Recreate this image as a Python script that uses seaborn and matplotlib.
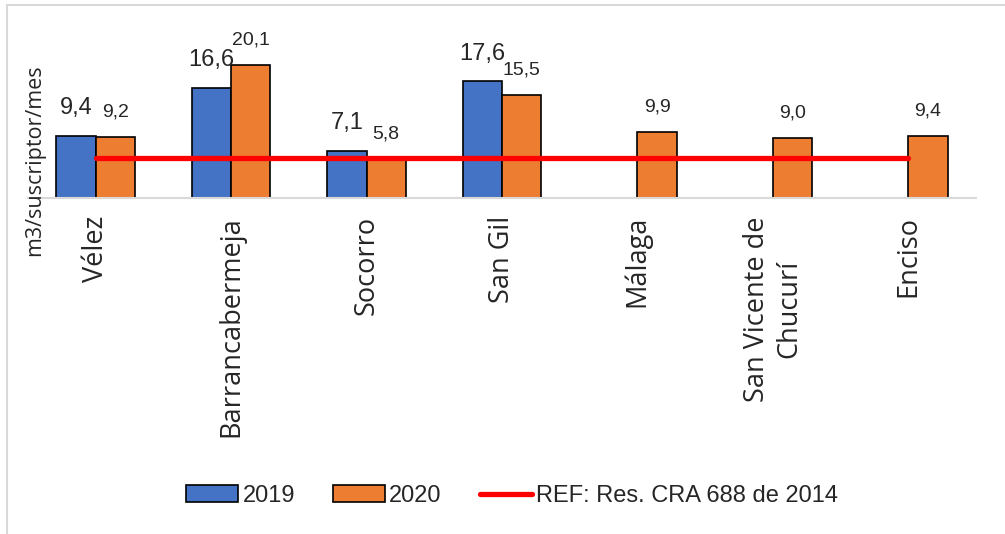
import numpy as np
import pandas as pd
import matplotlib
matplotlib.use("Agg")
import matplotlib.pyplot as plt
from matplotlib.patches import Patch
from matplotlib.lines import Line2D
import seaborn as sns

# data
municipios = ["Vélez", "Barrancabermeja", "Socorro", "San Gil", "Málaga",
              "San Vicente de\nChucurí", "Enciso"]
consumo_2019 = [9.4, 16.6, 7.1, 17.6, np.nan, np.nan, np.nan]
consumo_2020 = [9.2, 20.1, 5.8, 15.5, 9.9, 9.0, 9.4]
ref_cra = [6.0, 6.0, 6.0, 6.0, 6.0, 6.0, 6.0]
years = ["2019", "2020"]

BLUE = "#4472C4"
ORANGE = "#ED7D31"
GRID = "#D9D9D9"


def fmt(v):
    if np.isnan(v):
        return ""
    return f"{v:.1f}".replace(".", ",")


def main():
    sns.set_theme(style="white")
    plt.rcParams["font.family"] = ["Open Sans", "DejaVu Sans"]
    narrow = ["Liberation Sans Narrow", "Liberation Sans", "DejaVu Sans"]

    df = pd.DataFrame({
        "municipio": municipios * 2,
        "anio": [years[0]] * len(municipios) + [years[1]] * len(municipios),
        "valor": consumo_2019 + consumo_2020,
    })

    fig = plt.figure(figsize=(10.05, 5.34), dpi=100)
    ax = fig.add_axes([28 / 1005, 1 - 198 / 534, 948 / 1005, 165.5 / 534])

    sns.barplot(data=df, x="municipio", y="valor", hue="anio", order=municipios,
                hue_order=years, palette=[BLUE, ORANGE], saturation=1,
                width=0.58, gap=0, edgecolor="black", linewidth=1.2,
                errorbar=None, legend=False, ax=ax)

    ax.plot(np.arange(len(municipios)), ref_cra, color="red", lw=3.8,
            solid_capstyle="round", zorder=5)

    # data labels: 2019 larger, 2020 smaller (as in the source)
    sizes = [17, 14]
    for cont, vals, fs in zip(ax.containers, [consumo_2019, consumo_2020], sizes):
        for bar, v in zip(cont, vals):
            if bar is None or np.isnan(v):
                continue
            ax.annotate(fmt(v), (bar.get_x() + bar.get_width() / 2, bar.get_height()),
                        xytext=(0, 12), textcoords="offset points", ha="center",
                        va="bottom", fontsize=fs, family=narrow)

    ax.set_ylim(0, 25)
    ax.set_xlim(-0.5, len(municipios) - 0.5)
    ax.set_xlabel("")
    ax.set_ylabel("")
    ax.set_yticks([])
    ax.tick_params(axis="x", length=0, pad=13, labelsize=19.5)
    for lab in ax.get_xticklabels():
        lab.set_rotation(90)
        lab.set_multialignment("center")
    for s in ["top", "left", "right"]:
        ax.spines[s].set_visible(False)
    ax.spines["bottom"].set_color(GRID)
    ax.spines["bottom"].set_linewidth(1.5)

    fig.text(35 / 1005, 1 - 160 / 534, "m3/suscriptor/mes", rotation=90,
             ha="center", va="center", fontsize=15.5)

    handles = [Patch(facecolor=BLUE, edgecolor="black", lw=1.2),
               Patch(facecolor=ORANGE, edgecolor="black", lw=1.2),
               Line2D([0], [0], color="red", lw=3.8, solid_capstyle="round")]
    fig.legend(handles, ["2019", "2020", "REF: Res. CRA 688 de 2014"],
               loc="center", bbox_to_anchor=(512 / 1005, 1 - 496 / 534), ncol=3,
               frameon=False, prop={"family": narrow, "size": 17},
               handlelength=2.2, handleheight=0.7, handletextpad=0.2,
               columnspacing=1.6)

    # chart border (top and left only visible in the source crop)
    fig.add_artist(Line2D([7 / 1005, 7 / 1005], [0, 1 - 5 / 534], color=GRID, lw=1.5))
    fig.add_artist(Line2D([7 / 1005, 1], [1 - 5 / 534, 1 - 5 / 534], color=GRID, lw=1.5))

    fig.savefig("out.png", dpi=100, facecolor="white")


if __name__ == "__main__":
    main()
